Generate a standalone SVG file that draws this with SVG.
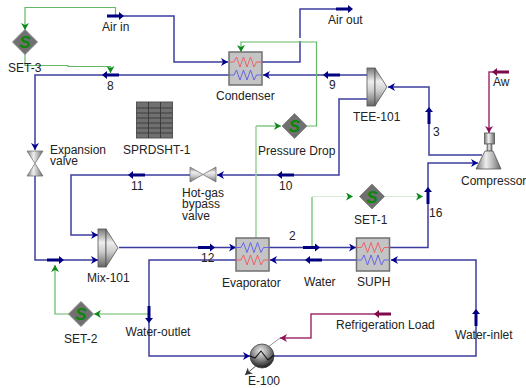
<svg xmlns="http://www.w3.org/2000/svg" width="526" height="388" viewBox="0 0 526 388">
<style>
text{font-family:"Liberation Sans",Arial,sans-serif;font-size:12px;fill:#222}
.c{fill:none;stroke:#3c3ca0;stroke-width:1.5}
.g{fill:none;stroke:#66b866;stroke-width:1.2}
.gp{fill:none;stroke:#d4ecd4;stroke-width:1.2}
.gl{fill:none;stroke:#9ad09a;stroke-width:1.5}
.m{fill:none;stroke:#a03070;stroke-width:1.5}
.box{fill:#c4c4c4;stroke:#707070;stroke-width:1.5}
.r{fill:none;stroke:#ee5a60;stroke-width:.9}
.b{fill:none;stroke:#5a5aee;stroke-width:.9}
.st{fill:none;stroke:#000080;stroke-width:3}
.sth{fill:#000080}
.rm{fill:none;stroke:#7d0a4a;stroke-width:3}
.rmh{fill:#7d0a4a}
</style>
<defs>
<marker id="ab" markerUnits="userSpaceOnUse" markerWidth="10" markerHeight="10" refX="7" refY="4" orient="auto"><path d="M0,0L7,4L0,8L2,4z" fill="#000090"/></marker>
<marker id="ag" markerUnits="userSpaceOnUse" markerWidth="10" markerHeight="10" refX="7" refY="4" orient="auto"><path d="M0,0L7,4L0,8L2,4z" fill="#0a8a1a"/></marker>
<marker id="am" markerUnits="userSpaceOnUse" markerWidth="10" markerHeight="10" refX="7" refY="4" orient="auto"><path d="M0,0L7,4L0,8L2,4z" fill="#8a1058"/></marker>
<marker id="ak" markerUnits="userSpaceOnUse" markerWidth="10" markerHeight="10" refX="7" refY="4" orient="auto"><path d="M0,0L7,4L0,8L2,4z" fill="#333"/></marker>
<linearGradient id="hg" x1="0" y1="0" x2="0" y2="1"><stop offset="0" stop-color="#777"/><stop offset=".35" stop-color="#eee"/><stop offset=".6" stop-color="#ccc"/><stop offset="1" stop-color="#666"/></linearGradient>
<linearGradient id="vg" x1="0" y1="0" x2="1" y2="0"><stop offset="0" stop-color="#777"/><stop offset=".4" stop-color="#eee"/><stop offset=".65" stop-color="#bbb"/><stop offset="1" stop-color="#666"/></linearGradient>
<radialGradient id="sp" cx=".45" cy=".3" r=".7"><stop offset="0" stop-color="#eee"/><stop offset=".45" stop-color="#999"/><stop offset="1" stop-color="#1a1a1a"/></radialGradient>
<g id="stream"><path class="st" d="M-8,0H5"/><path class="sth" d="M4,-4L9,0L4,4z"/></g>
<g id="rstream"><path class="rm" d="M-8,0H5"/><path class="rmh" d="M4,-4L9,0L4,4z"/></g>
<g id="diamond"><path d="M0,-12.5L12.5,0L0,12.5L-12.5,0z" fill="#707070" stroke="#8a8a8a"/><text x="0" y="6" text-anchor="middle" style="font-size:17px;font-weight:bold;font-style:italic;fill:#0a860a">S</text></g>
<g id="hx"><rect class="box" x="0" y="0" width="33" height="33"/></g>
<path id="zig" d="M0,0H5L7.500,-5L11,5L14.500,-5L18,5L21.500,-5L25,5L27.500,0H33"/>
<g id="split"><rect x="0" y="0" width="8" height="38" fill="url(#hg)" stroke="#555" stroke-width=".8"/><path d="M8,0L20,19L8,38z" fill="url(#hg)" stroke="#555" stroke-width=".8"/></g>
</defs>

<g id="connectors">
<path class="c" d="M123,16H174V62H228" marker-end="url(#ab)"/>
<path class="c" d="M262,62H300V41M300,38V9H336"/>
<path class="c" d="M367,75H263" marker-end="url(#ab)"/>
<path class="c" d="M229,75H35V150" marker-end="url(#ab)"/>
<path class="c" d="M35,176V260H98" marker-end="url(#ab)"/>
<path class="c" d="M190,175H71V235H98" marker-end="url(#ab)"/>
<path class="c" d="M367,99H339V175H217" marker-end="url(#ab)"/>
<path class="c" d="M482,155H429V87H388" marker-end="url(#ab)"/>
<path class="c" d="M390,247.500H428V163H478" marker-end="url(#ab)"/>
<path class="c" d="M119,247.500H236" marker-end="url(#ab)"/>
<path class="c" d="M269,247.500H356" marker-end="url(#ab)"/>
<path class="c" d="M356,260H270" marker-end="url(#ab)"/>
<path class="c" d="M236,260H149V356H250" marker-end="url(#ab)"/>
<path class="c" d="M274,356H476V260H391" marker-end="url(#ab)"/>
<path class="m" d="M376,314H311V338H280" marker-end="url(#am)"/>
<path class="m" d="M493,72H489V133" marker-end="url(#am)"/>
<path d="M280,338L268,347" fill="none" stroke="#999" stroke-width="1"/>
<path d="M257,365L245,375" fill="none" stroke="#555" stroke-width="1" marker-end="url(#ak)"/>
<path class="g" d="M115.500,16V7.500H25V30" marker-end="url(#ag)"/>
<path class="g" d="M25,54V65.500H68V66.500H110.500V73" marker-end="url(#ag)"/>
<path class="g" d="M307,126H316.500V42H241V52" marker-end="url(#ag)"/>
<path class="g" d="M256,126H281" marker-end="url(#ag)"/>
<path class="gl" d="M256,126V238"/>
<path class="g" d="M312,247V197"/>
<path class="gp" d="M312,196.500H353" marker-end="url(#ag)"/>
<path class="gp" d="M384,196.500H423" marker-end="url(#ag)"/>
<path class="g" d="M149,314H94" marker-end="url(#ag)"/>
<path class="g" d="M69,314H55V265" marker-end="url(#ag)"/>
</g>

<g id="stream-airin"><use href="#stream" transform="translate(115,16)"/><text x="102" y="31">Air in</text></g>
<g id="stream-airout"><use href="#stream" transform="translate(344,9)"/><text x="328" y="24">Air out</text></g>
<g id="stream-8"><use href="#stream" transform="translate(111,75) rotate(180)"/><text x="107" y="90">8</text></g>
<g id="stream-9"><use href="#stream" transform="translate(332,75) rotate(180)"/><text x="329" y="89">9</text></g>
<g id="stream-10"><use href="#stream" transform="translate(286,175) rotate(180)"/><text x="279" y="190">10</text></g>
<g id="stream-11"><use href="#stream" transform="translate(137,175) rotate(180)"/><text x="131" y="190">11</text></g>
<g id="stream-12"><use href="#stream" transform="translate(206,247.500)"/><text x="201" y="262">12</text></g>
<g id="stream-2"><use href="#stream" transform="translate(311,247.500)"/><text x="289" y="240">2</text></g>
<g id="stream-water"><use href="#stream" transform="translate(314,260) rotate(180)"/><text x="304" y="286">Water</text></g>
<g id="stream-3"><use href="#stream" transform="translate(429,116) rotate(-90)"/><text x="433" y="136">3</text></g>
<g id="stream-16"><use href="#stream" transform="translate(428,196) rotate(-90)"/><text x="429" y="217">16</text></g>
<g id="stream-mixin"><use href="#stream" transform="translate(55,260)"/></g>
<g id="stream-wateroutlet"><use href="#stream" transform="translate(149,314) rotate(90)"/><text x="125.500" y="336">Water-outlet</text></g>
<g id="stream-waterinlet"><use href="#stream" transform="translate(476,318) rotate(-90)"/><text x="455" y="339">Water-inlet</text></g>
<g id="stream-aw"><use href="#rstream" transform="translate(501,72) rotate(180)"/><text x="493" y="86">Aw</text></g>
<g id="stream-load"><use href="#rstream" transform="translate(383,314) rotate(180)"/><text x="336" y="329">Refrigeration Load</text></g>

<g id="SET-3"><use href="#diamond" transform="translate(25,42)"/><text x="8" y="72">SET-3</text></g>
<g id="Pressure-Drop"><use href="#diamond" transform="translate(294.500,126)"/><text x="258" y="155">Pressure Drop</text></g>
<g id="SET-1"><use href="#diamond" transform="translate(372,196.500)"/><text x="354" y="224">SET-1</text></g>
<g id="SET-2"><use href="#diamond" transform="translate(81,314)"/><text x="64" y="343">SET-2</text></g>

<g id="Condenser"><use href="#hx" transform="translate(229,52)"/><use href="#zig" class="r" transform="translate(229,62)"/><use href="#zig" class="b" transform="translate(229,75)"/><text x="216" y="100">Condenser</text></g>
<g id="Evaporator"><use href="#hx" transform="translate(236,238)"/><use href="#zig" class="b" transform="translate(236,247.500)"/><use href="#zig" class="r" transform="translate(236,260)"/><text x="222" y="287">Evaporator</text></g>
<g id="SUPH"><use href="#hx" transform="translate(356.500,238)"/><use href="#zig" class="r" transform="translate(356.500,247.500)"/><use href="#zig" class="b" transform="translate(356.500,260)"/><text x="357" y="286">SUPH</text></g>

<g id="TEE-101"><use href="#split" transform="translate(367,68)"/><text x="353" y="121">TEE-101</text></g>
<g id="Mix-101"><use href="#split" transform="translate(98,229)"/><text x="87" y="282">Mix-101</text></g>

<g id="Expansion-valve"><path d="M27,151H43L35,163.500z" fill="url(#vg)" stroke="#777" stroke-width=".8"/><path d="M27,176H43L35,163.500z" fill="url(#vg)" stroke="#777" stroke-width=".8"/><text x="50" y="154">Expansion</text><text x="50" y="165">valve</text></g>
<g id="Hot-gas-bypass-valve"><path d="M190,167V182L203,174.500z" fill="url(#hg)" stroke="#777" stroke-width=".8"/><path d="M216,167V182L203,174.500z" fill="url(#hg)" stroke="#777" stroke-width=".8"/><text x="182" y="197">Hot-gas</text><text x="182" y="208">bypass</text><text x="182" y="220">valve</text></g>

<g id="Compressor"><rect x="484.500" y="133" width="10" height="11" fill="url(#vg)" stroke="#555" stroke-width=".8"/><rect x="487" y="144" width="5" height="7" fill="url(#vg)" stroke="#555" stroke-width=".6"/><path d="M485,151H493L501,169H476z" fill="url(#vg)" stroke="#555" stroke-width=".8"/><text x="461" y="185">Compressor</text></g>

<g id="E-100"><circle cx="262" cy="356" r="12" fill="url(#sp)" stroke="#444" stroke-width=".8"/><path d="M250,356L255,358L261,351L268,360L274,355" fill="none" stroke="#111" stroke-width="1.1"/><text x="248" y="385">E-100</text></g>

<g id="SPRDSHT-1"><rect x="136.500" y="102" width="36" height="36" fill="#707070" stroke="#555"/><path d="M136.500,108H172.500M136.500,113H172.500M136.500,118H172.500M136.500,123H172.500M136.500,128H172.500M136.500,133H172.500M148.500,102V138M160.500,102V138" stroke="#3c3c3c" stroke-width="1" fill="none"/><text x="123" y="154">SPRDSHT-1</text></g>
</svg>
